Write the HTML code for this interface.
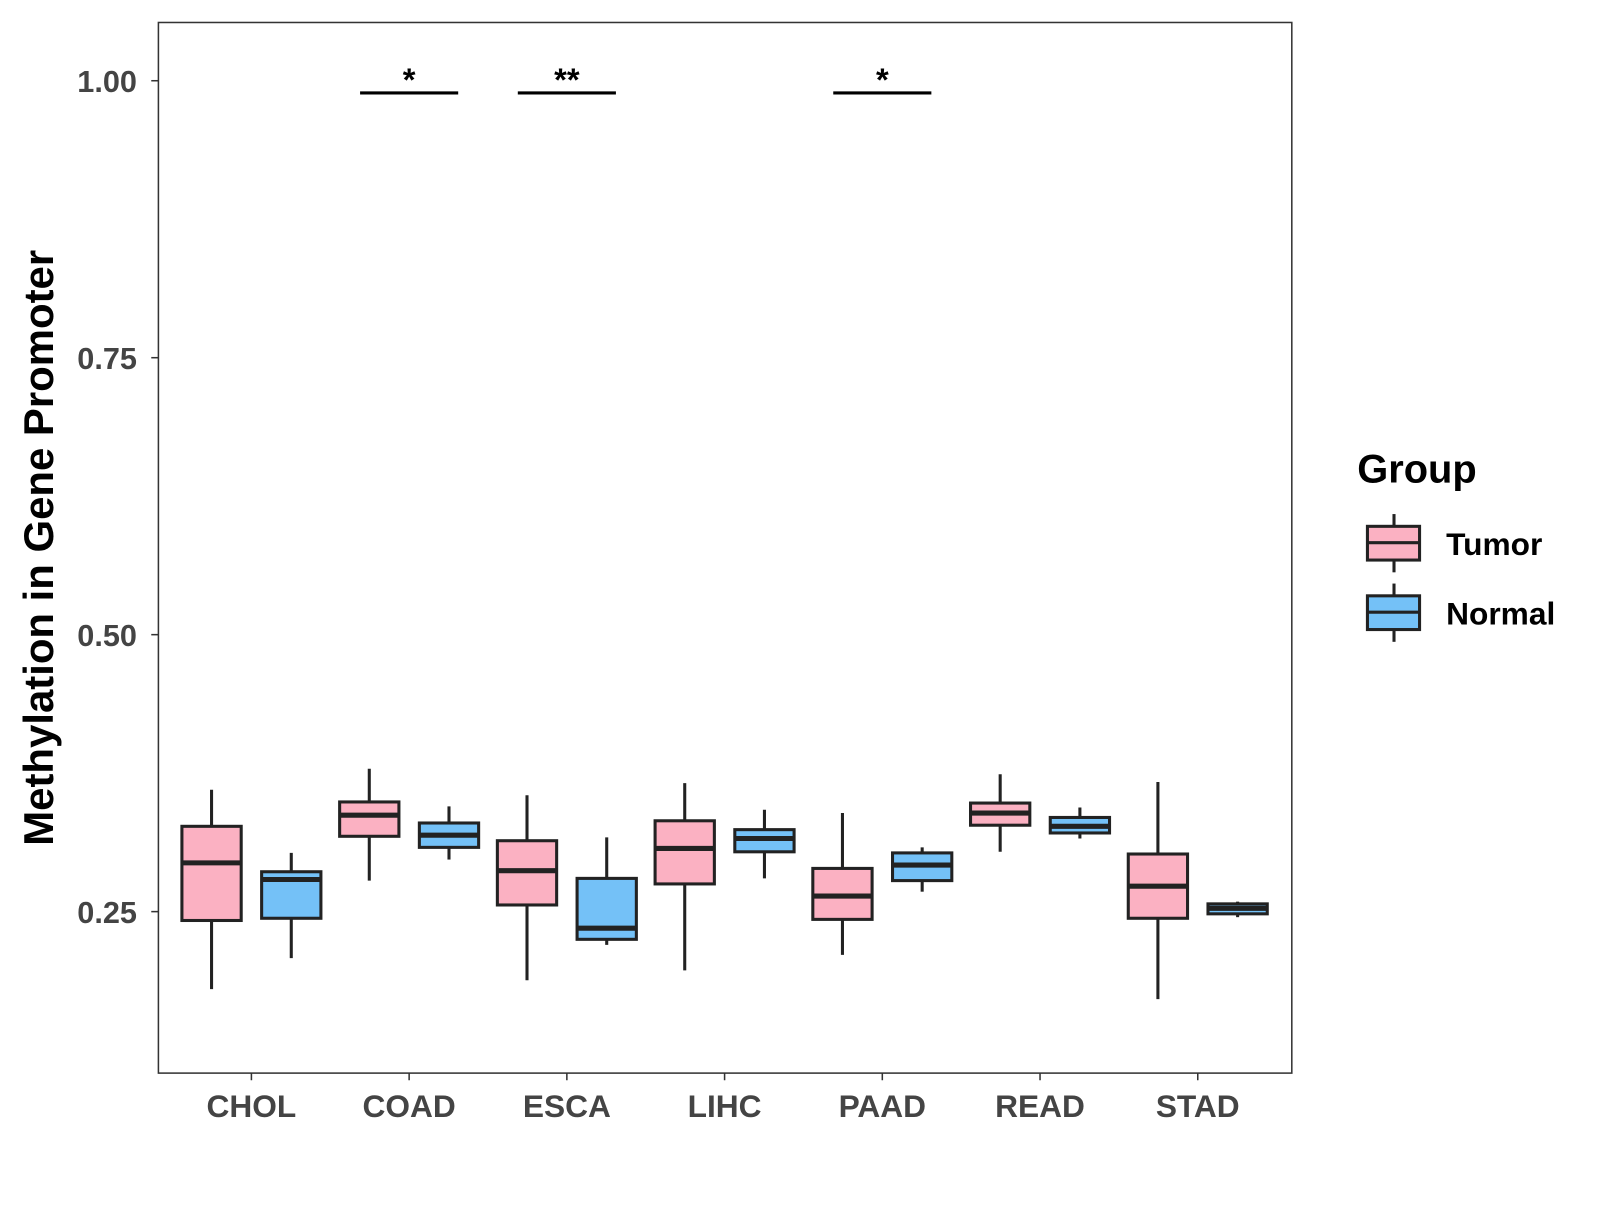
<!DOCTYPE html>
<html><head><meta charset="utf-8"><style>
html,body{margin:0;padding:0;background:#fff;}
svg text{font-family:"Liberation Sans",Arial,sans-serif;font-weight:bold;}
</style></head><body>
<svg id="chart" width="1600" height="1200" viewBox="0 0 1600 1200">
<rect x="0" y="0" width="1600" height="1200" fill="#fff"/>
<g transform="scale(1.022)">
<g id="plot"></g>
<rect x="155" y="22" width="1109" height="1028" fill="none" stroke="#333" stroke-width="1.5"/>
<text transform="translate(52,536) rotate(-90)" text-anchor="middle" font-size="41" fill="#000">Methylation in Gene Promoter</text>
<g>
<text x="1328" y="472" font-size="39" fill="#000">Group</text>
<g>
<line x1="1364" y1="503" x2="1364" y2="560" stroke="#222" stroke-width="3"/>
<rect x="1338" y="515" width="51" height="33" fill="#FBB1C2" stroke="#222" stroke-width="3"/>
<line x1="1338" y1="531" x2="1389" y2="531" stroke="#222" stroke-width="3"/>
<text x="1415" y="543" font-size="31" fill="#000">Tumor</text></g>
<g>
<line x1="1364" y1="571" x2="1364" y2="628" stroke="#222" stroke-width="3"/>
<rect x="1338" y="583" width="51" height="33" fill="#74C1F7" stroke="#222" stroke-width="3"/>
<line x1="1338" y1="599" x2="1389" y2="599" stroke="#222" stroke-width="3"/>
<text x="1415" y="611" font-size="31" fill="#000">Normal</text></g>
</g>
</g>
</svg>
<script>
const categories = ["CHOL","COAD","ESCA","LIHC","PAAD","READ","STAD"];
const tumorMin = [0.180,0.278,0.188,0.197,0.211,0.304,0.171];
const tumorQ1  = [0.242,0.318,0.256,0.275,0.243,0.328,0.244];
const tumorMed = [0.294,0.337,0.287,0.307,0.264,0.339,0.273];
const tumorQ3  = [0.327,0.349,0.314,0.332,0.289,0.348,0.302];
const tumorMax = [0.360,0.379,0.355,0.366,0.339,0.374,0.367];
const normalMin = [0.208,0.297,0.220,0.280,0.268,0.316,0.245];
const normalQ1  = [0.244,0.308,0.225,0.304,0.278,0.321,0.248];
const normalMed = [0.279,0.319,0.235,0.316,0.292,0.327,0.253];
const normalQ3  = [0.286,0.330,0.280,0.324,0.303,0.335,0.257];
const normalMax = [0.303,0.345,0.317,0.342,0.308,0.344,0.259];
const yTicks = [0.25,0.50,0.75,1.00];
const yTickLabels = ["0.25","0.50","0.75","1.00"];
const sigCategories = ["COAD","ESCA","PAAD"];
const sigLabels = ["*","**","*"];
const sigLevel = 0.989;

const NS="http://www.w3.org/2000/svg";
const g=document.getElementById("plot");
function y(v){return 79+(1-v)*1084;}
function x(i){return 246+i*154.33;}
function mk(t,a,parent){const e=document.createElementNS(NS,t);for(const k in a)e.setAttribute(k,a[k]);(parent||g).appendChild(e);return e;}

yTicks.forEach((v,i)=>{
  const t=mk("line",{x1:148,x2:155,y1:y(v),y2:y(v),stroke:"#333","stroke-width":1.5});
  
  
  const l=mk("text",{x:134,y:y(v)+11,"text-anchor":"end","font-size":30,fill:"#444"});
  l.textContent=yTickLabels[i];
  
  
});
categories.forEach((c,i)=>{
  const t=mk("line",{x1:x(i),x2:x(i),y1:1050,y2:1057,stroke:"#333","stroke-width":1.5});
  
  
  const l=mk("text",{x:x(i),y:1093,"text-anchor":"middle","font-size":31,fill:"#444"});
  l.textContent=c;
  
  
});
function box(cx,mn,q1,md,q3,mx,fill,name){
  const grp=mk("g",{});
  
  
  mk("line",{x1:cx,x2:cx,y1:y(mx),y2:y(mn),stroke:"#222","stroke-width":3},grp);
  mk("rect",{x:cx-29,y:y(q3),width:58,height:Math.max(y(q1)-y(q3),1),fill:fill,stroke:"#222","stroke-width":3},grp);
  mk("line",{x1:cx-29,x2:cx+29,y1:y(md),y2:y(md),stroke:"#222","stroke-width":5},grp);
}
categories.forEach((c,i)=>{
  box(x(i)-39,tumorMin[i],tumorQ1[i],tumorMed[i],tumorQ3[i],tumorMax[i],"#FBB1C2","box-tumor-"+c.toLowerCase());
  box(x(i)+39,normalMin[i],normalQ1[i],normalMed[i],normalQ3[i],normalMax[i],"#74C1F7","box-normal-"+c.toLowerCase());
});
sigCategories.forEach((c,k)=>{
  const i=categories.indexOf(c);
  const l=mk("line",{x1:x(i)-48,x2:x(i)+48,y1:y(sigLevel),y2:y(sigLevel),stroke:"#000","stroke-width":3});
  
  
  const t=mk("text",{x:x(i),y:y(sigLevel)-2,"text-anchor":"middle","font-size":32,fill:"#000"});
  t.textContent=sigLabels[k];
  
  
});
</script>
</body></html>
